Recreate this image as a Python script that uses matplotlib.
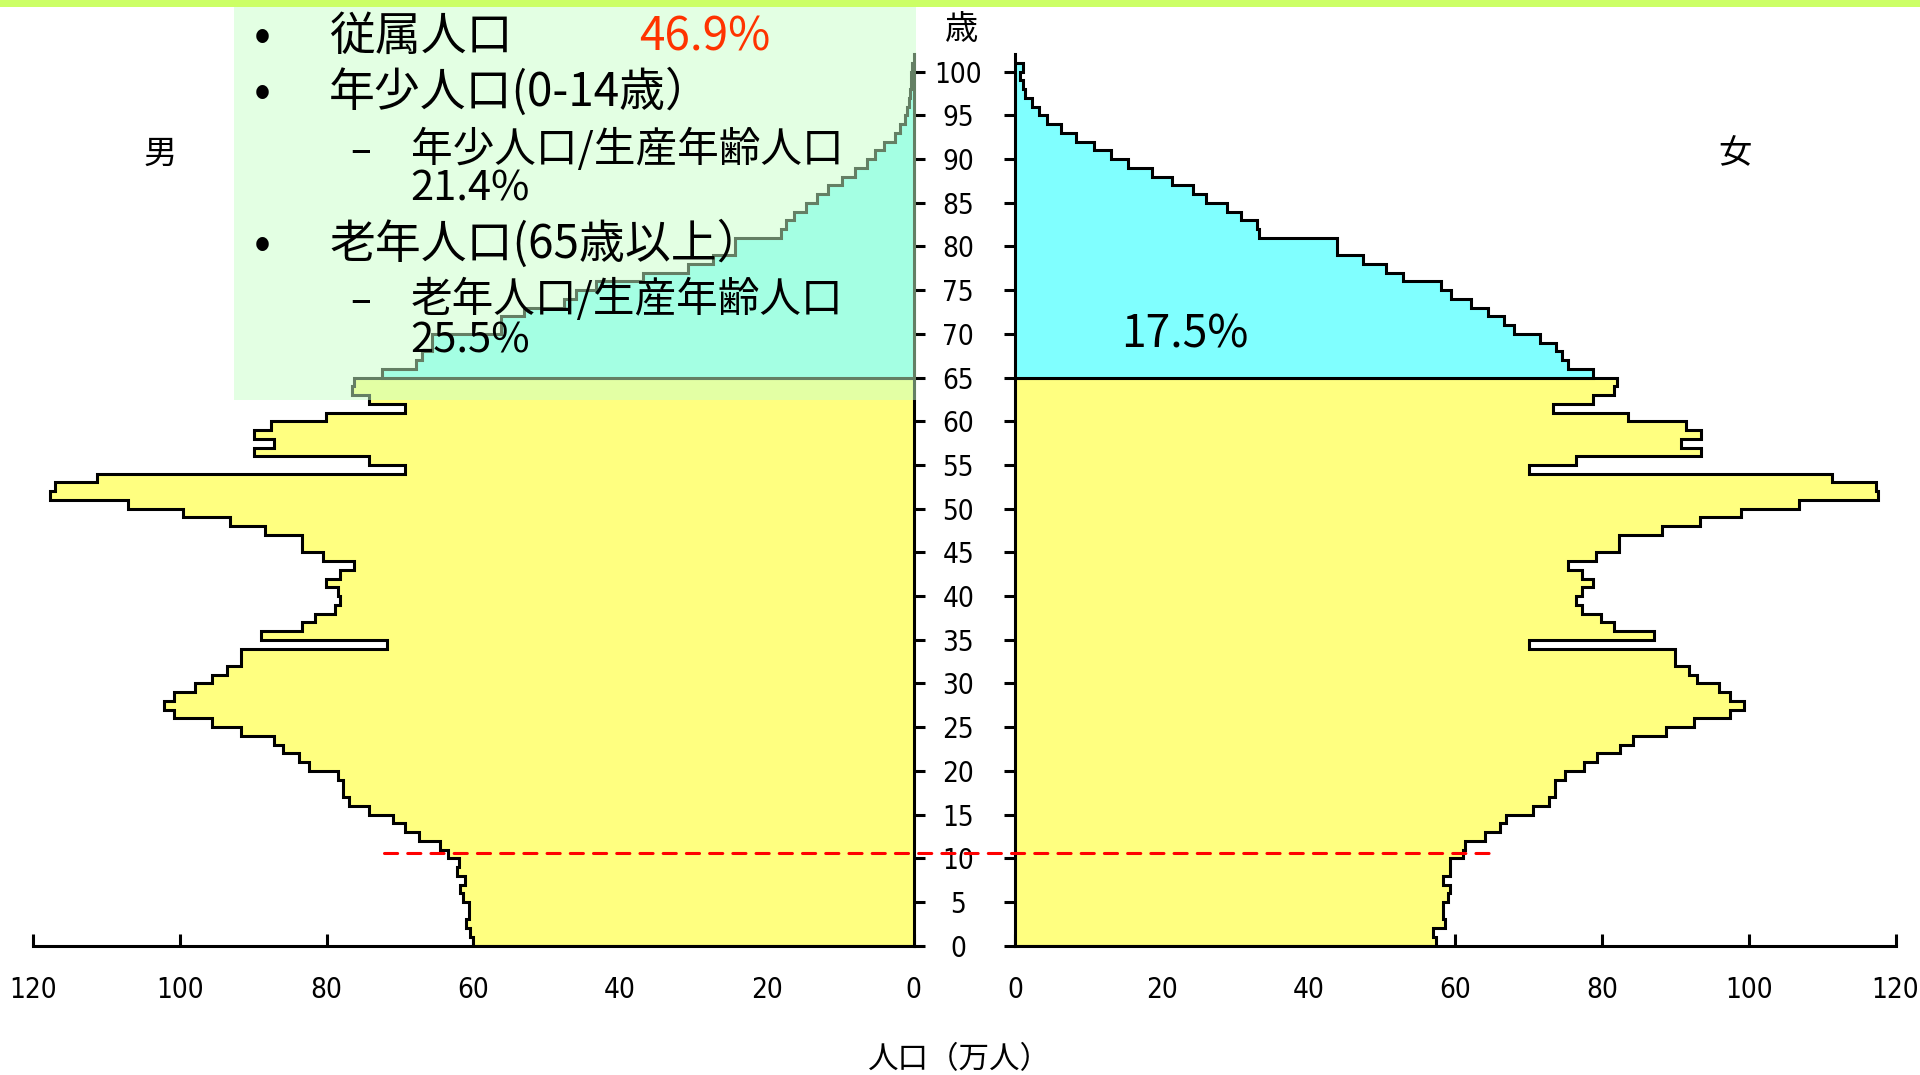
import matplotlib
matplotlib.use("Agg")
import matplotlib.pyplot as plt
import numpy as np
from matplotlib import font_manager
from matplotlib.patches import ConnectionPatch, Rectangle

# ---------------------------------------------------------------------------
# Population by single year of age (0..100), unit: 10,000 persons
# ---------------------------------------------------------------------------
ages = np.arange(0, 101)

male = [
    60.1, 60.4, 61.0, 60.6, 60.6, 61.4, 61.8, 61.1, 62.2, 61.9,      # 0-9
    63.5, 64.5, 67.4, 69.3, 70.9, 74.2, 76.9, 77.7, 77.7, 78.4,      # 10-19
    82.4, 83.7, 86.0, 87.2, 91.6, 95.6, 100.8, 102.2, 100.8, 97.9,   # 20-29
    95.6, 93.5, 91.6, 91.6, 71.8, 88.9, 83.3, 81.6, 78.9, 78.1,      # 30-39
    78.5, 80.1, 78.1, 76.2, 80.5, 83.3, 83.3, 88.4, 93.2, 99.5,      # 40-49
    107.0, 117.7, 117.0, 111.3, 69.3, 74.2, 89.9, 87.2, 89.9, 87.6,  # 50-59
    80.1, 69.3, 74.2, 76.5, 76.2, 72.5, 67.8, 67.0, 65.6, 65.6,      # 60-69
    56.2, 56.2, 53.1, 47.7, 46.0, 43.3, 36.9, 30.8, 27.3, 24.3,      # 70-79
    24.3, 18.1, 17.4, 16.3, 14.6, 13.2, 11.6, 9.7, 8.0, 6.4,         # 80-89
    5.2, 4.1, 2.6, 1.9, 1.2, 0.9, 0.6, 0.5, 0.4, 0.3,                # 90-99
    0.2,                                                             # 100+
]

female = [
    57.4, 57.0, 58.6, 58.3, 58.3, 59.0, 59.3, 58.3, 59.3, 59.3,      # 0-9
    61.0, 61.3, 64.0, 66.1, 66.9, 70.6, 72.8, 73.6, 73.6, 74.9,      # 10-19
    77.6, 79.3, 82.4, 84.2, 88.7, 92.6, 97.4, 99.4, 97.4, 96.0,      # 20-29
    92.9, 91.9, 89.9, 89.9, 70.1, 87.1, 81.6, 79.9, 77.2, 76.4,      # 30-39
    77.2, 78.8, 77.2, 75.3, 79.2, 82.3, 82.3, 88.2, 93.4, 98.9,      # 40-49
    106.9, 117.6, 117.3, 111.3, 70.1, 76.4, 93.5, 90.7, 93.5, 91.5,  # 50-59
    83.6, 73.3, 78.8, 81.6, 82.0, 78.8, 75.3, 74.5, 73.7, 71.6,      # 60-69
    68.0, 66.6, 64.5, 62.2, 59.4, 58.1, 52.9, 50.6, 47.4, 43.9,      # 70-79
    43.9, 33.2, 32.9, 30.8, 28.9, 26.0, 24.2, 21.4, 18.6, 15.4,      # 80-89
    13.0, 10.7, 8.3, 6.3, 4.3, 3.2, 2.3, 1.4, 1.1, 0.7,              # 90-99
    1.1,                                                             # 100+
]

OLD_AGE = 65
age_ticks = list(range(0, 101, 5))
pop_ticks = [0, 20, 40, 60, 80, 100, 120]

dependency_ratio = "46.9%"
young_ratio = "21.4%"
old_ratio = "25.5%"
aging_rate = "17.5%"

# ---------------------------------------------------------------------------
# Style
# ---------------------------------------------------------------------------
YELLOW = "#FFFF80"
CYAN = "#80FFFF"
LIME = "#CCFF66"
RED = "#FF3300"

available = {f.name for f in font_manager.fontManager.ttflist}
if "Liberation Sans Narrow" in available:
    NUM_FONT, NUM_SIZE = "Liberation Sans Narrow", 25
else:
    NUM_FONT, NUM_SIZE = "DejaVu Sans", 20
JP_FONT = ["Noto Sans CJK JP", "DejaVu Sans"]

W, H = 1920, 1075
LW = 2.2


def fx(x):
    return x / W


def fy(y):
    return 1 - y / H


def px_rect(x0, x1, ytop, ybot):
    return [x0 / W, 1 - ybot / H, (x1 - x0) / W, (ybot - ytop) / H]


fig = plt.figure(figsize=(W / 100, H / 100), dpi=100, facecolor="white")

ax_m = fig.add_axes(px_rect(33, 913.6, 54.2, 945.7))
ax_f = fig.add_axes(px_rect(1015.2, 1895.5, 54.2, 945.7))

num_style = dict(fontfamily=NUM_FONT, fontsize=NUM_SIZE, fontstretch="condensed")

edges = np.arange(0, len(ages) + 1)
for ax, values in ((ax_m, male), (ax_f, female)):
    values = np.asarray(values)
    ax.stairs(values[:OLD_AGE], edges[:OLD_AGE + 1], orientation="horizontal",
              baseline=0, fill=True, facecolor=YELLOW, edgecolor="black",
              linewidth=LW, zorder=2)
    ax.stairs(values[OLD_AGE:], edges[OLD_AGE:], orientation="horizontal",
              baseline=0, fill=True, facecolor=CYAN, edgecolor="black",
              linewidth=LW, zorder=2)
    ax.set_ylim(0, 102)
    ax.set_facecolor("none")
    ax.spines["top"].set_visible(False)
    for s in ax.spines.values():
        s.set_linewidth(LW)
    ax.set_xticks(pop_ticks)
    ax.set_xticklabels([str(t) for t in pop_ticks], **num_style)
    ax.tick_params(axis="x", direction="in", length=9, width=LW, pad=22)
    ax.set_yticks(age_ticks)

# male side: mirrored, age axis on its right edge
ax_m.set_xlim(120, 0)
ax_m.spines["left"].set_visible(False)
ax_m.yaxis.tick_right()
ax_m.tick_params(axis="y", direction="out", length=8, width=LW, labelright=False)

# female side: age labels sit centred in the gap between the two halves
ax_f.set_xlim(0, 120)
ax_f.spines["right"].set_visible(False)
ax_f.set_yticklabels([str(a) for a in age_ticks], ha="center", **num_style)
ax_f.tick_params(axis="y", direction="out", length=8, width=LW, pad=33)

# dashed marker line across both halves
marker = ConnectionPatch(xyA=(72.1, 10.55), coordsA=ax_m.transData,
                         xyB=(65.5, 10.55), coordsB=ax_f.transData,
                         color="red", linewidth=LW, linestyle=(0, (4.3, 3.3)),
                         zorder=3)
fig.add_artist(marker)

# lime band along the top edge
fig.add_artist(Rectangle((0, fy(7.3)), 1, 7.3 / H, transform=fig.transFigure,
                         facecolor=LIME, edgecolor="none", zorder=4))

# translucent note panel
fig.add_artist(Rectangle((fx(234), fy(400)), (916 - 234) / W, (400 - 7.3) / H,
                         transform=fig.transFigure, facecolor="#C8FFC8",
                         alpha=0.5, edgecolor="none", zorder=5))

note = dict(family=JP_FONT, zorder=6, va="center")
for y in (37, 93, 245):
    fig.text(fx(262), fy(y), "•", ha="center", fontsize=36, **note)
for y in (152, 302):
    fig.text(fx(361), fy(y), "–", ha="center", fontsize=28, **note)
fig.text(fx(329), fy(37), "従属人口", fontsize=33, **note)
fig.text(fx(639), fy(37), dependency_ratio, fontsize=33, color=RED,
         family=JP_FONT, zorder=6, va="center")
fig.text(fx(329), fy(93), "年少人口(0-14歳）", fontsize=33, **note)
fig.text(fx(411), fy(149), "年少人口/生産年齢人口", fontsize=30, **note)
fig.text(fx(410), fy(189), young_ratio, fontsize=30, **note)
fig.text(fx(329), fy(245), "老年人口(65歳以上）", fontsize=33, **note)
fig.text(fx(411), fy(299), "老年人口/生産年齢人口", fontsize=30, **note)
fig.text(fx(410), fy(341), old_ratio, fontsize=30, **note)

fig.text(fx(1185), fy(334), aging_rate, ha="center", va="center",
         fontsize=32, family=JP_FONT, zorder=6)

# labels around the pyramid
fig.text(fx(160), fy(154), "男", ha="center", va="center", fontsize=24, family=JP_FONT)
fig.text(fx(1735), fy(154), "女", ha="center", va="center", fontsize=24, family=JP_FONT)
fig.text(fx(962), fy(29), "歳", ha="center", va="center", fontsize=24, family=JP_FONT)
fig.text(fx(959), fy(1060), "人口（万人）", ha="center", va="center",
         fontsize=22, family=JP_FONT)

fig.savefig("out.png", dpi=100, facecolor="white")
